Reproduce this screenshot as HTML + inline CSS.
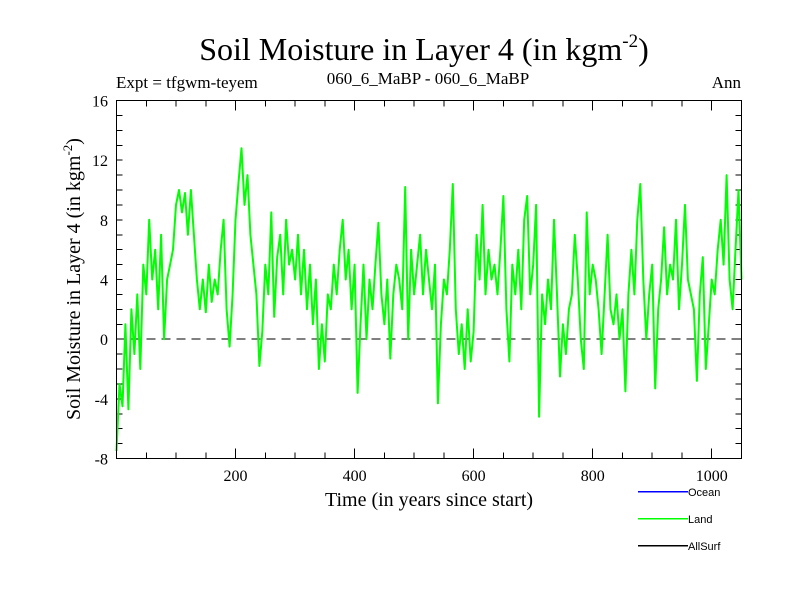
<!DOCTYPE html>
<html><head><meta charset="utf-8"><style>
body{margin:0;background:#fff;}
svg text{font-family:"Liberation Serif",serif;fill:#000;}
</style></head><body>
<svg id="chart" width="800" height="600" xmlns="http://www.w3.org/2000/svg">
<rect width="800" height="600" fill="#fff"/>
<text x="424" y="60" font-size="32" text-anchor="middle">Soil Moisture in Layer 4 (in kgm<tspan dy="-13" font-size="19">-2</tspan><tspan dy="13">)</tspan></text>
<text x="116" y="88" font-size="17">Expt = tfgwm-teyem</text>
<text x="428" y="84" font-size="17" text-anchor="middle">060_6_MaBP - 060_6_MaBP</text>
<text x="741" y="88" font-size="17" text-anchor="end">Ann</text>
<g id="axes" shape-rendering="crispEdges"></g>
<g id="series"></g>
<rect x="116.5" y="100.5" width="625" height="358" fill="none" stroke="#000" stroke-width="1" shape-rendering="crispEdges"/>
<text x="429" y="506" font-size="20" text-anchor="middle">Time (in years since start)</text>
<text transform="translate(80,279) rotate(-90)" font-size="20" text-anchor="middle">Soil Moisture in Layer 4 (in kgm<tspan dy="-8" font-size="13">-2</tspan><tspan dy="8">)</tspan></text>
<g>
<rect x="638" y="491" width="50" height="1.5" fill="#0000ff"/>
<text x="688" y="496" font-size="11" style="font-family:'Liberation Sans',sans-serif">Ocean</text>
<rect x="638" y="518" width="50" height="1.5" fill="#00ff00"/>
<text x="688" y="523" font-size="11" style="font-family:'Liberation Sans',sans-serif">Land</text>
<rect x="638" y="545" width="50" height="1.5" fill="#000"/>
<text x="688" y="550" font-size="11" style="font-family:'Liberation Sans',sans-serif">AllSurf</text>
</g>
</svg>
<script>
const yTickLabels = [-8,-4,0,4,8,12,16];
const xTickLabels = [200,400,600,800,1000];
const yearStep = 5;
const landValues = [
-7.5,-3,-4.5,1,-4.7,2,-1,3,-2,5,3,8,4,6,2,7,0,4,5,6,9,
10,8.5,9.8,7,10,7,4,2,4,1.8,5,2.5,4,3,6,8,2,-0.5,3,8,
10.5,12.8,9,11,7,5,3,-1.8,0.5,5,3,8.5,1.5,5.5,7,3,8,5,6,4,
7,3,6,2,5,1,4,-2,1,-1.5,3,2,5,3,6,8,4,6,2,5,
-3.6,1,5,0,4,2,5,7.8,3,1,4,-1.3,3,5,4,2,10.2,0,6,3,
5,7,3,6,4,2,5,-4.3,1,4,3,6,10.4,2,-1,1,-2,2,-1.5,0.5,
7,4,9,3,6,4,5,3,6,9.6,2,-1.5,5,3,6,2,8,9.6,3,5,
9,-5.2,3,1,4,2,8,3,-2.5,1,-1,2,3,7,4,0,-2,8.5,3,5,
4,2,-1,3,7,2,1,3,0,2,-3.5,3,6,3,8,10.4,4,0,3,5,
-3.3,2,4,7.5,3,5,4,8,2,5,9,4,3,2,-2.8,3,5.5,-2,1,4,
3,6,8,5,11,4,2,6,10,4];
const NS='http://www.w3.org/2000/svg';
const X0=116.5,X1=741.5,Y0=100.5,Y1=458.5;
function xs(yr){return X0+(yr/1050)*(X1-X0);}
function ys(v){return Y1-((v+8)/24)*(Y1-Y0);}
const axes=document.getElementById('axes');
function mk(tag,attrs,parent){const e=document.createElementNS(NS,tag);for(const k in attrs)e.setAttribute(k,attrs[k]);parent.appendChild(e);return e;}
for(let v=-8;v<=16;v++){
  const y=ys(v);
  const l=mk('line',{x1:X0,y1:y,x2:X0+6,y2:y,stroke:'#000'},axes);
  
  
  const r=mk('line',{x1:X1,y1:y,x2:X1-6,y2:y,stroke:'#000'},axes);
  
  
}
yTickLabels.forEach(v=>{
  const t=mk('text',{x:108,y:ys(v)+6,'font-size':16,'text-anchor':'end'},axes);
  t.textContent=v;
  
  
});
for(let yr=50;yr<=1050;yr+=50){
  const x=xs(yr),len=(yr%200===0)?10:6;
  const b=mk('line',{x1:x,y1:Y1,x2:x,y2:Y1-len,stroke:'#000'},axes);
  
  
  const t=mk('line',{x1:x,y1:Y0,x2:x,y2:Y0+len,stroke:'#000'},axes);
  
  
}
xTickLabels.forEach(v=>{
  const t=mk('text',{x:xs(v),y:481,'font-size':16,'text-anchor':'middle'},axes);
  t.textContent=v;
  
  
});
const zl=mk('line',{x1:X0,y1:ys(0),x2:X1,y2:ys(0),stroke:'#000','stroke-dasharray':'9,6'},axes);


const pts=landValues.map((v,i)=>xs(i*yearStep).toFixed(1)+','+ys(v).toFixed(1)).join(' ');
const pl=mk('polyline',{points:pts,fill:'none',stroke:'#00ff00','stroke-width':2,'stroke-linejoin':'round'},document.getElementById('series'));


</script>
</body></html>
